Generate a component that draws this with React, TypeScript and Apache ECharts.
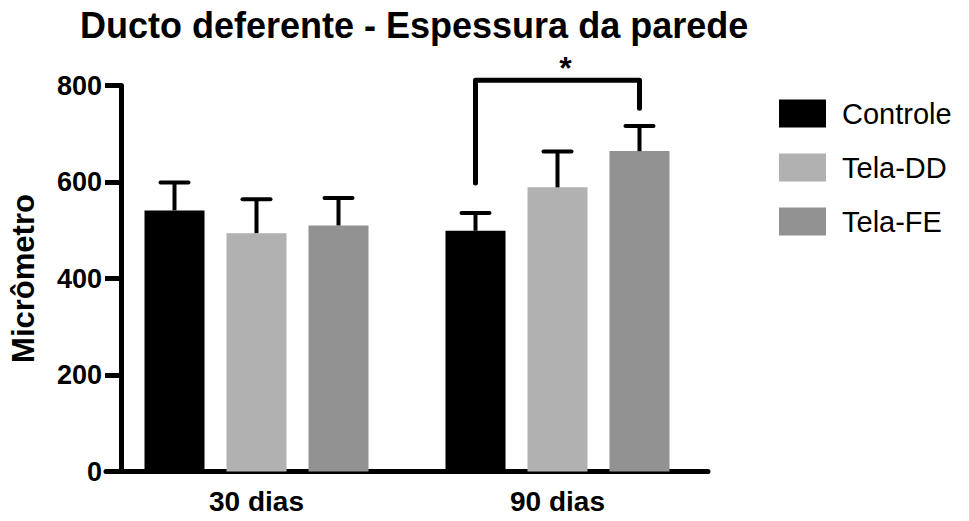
import React, { useEffect, useRef } from "react";
import * as echarts from "echarts";

// Group labels on the x axis
const categories = ["30 dias", "90 dias"];

// Mean wall thickness (µm) and standard deviation for each group
const controleMean = [541, 499];
const controleSd = [58, 37];
const telaDDMean = [494, 589];
const telaDDSd = [70, 74];
const telaFEMean = [510, 664];
const telaFESd = [57, 52];

// Significance bracket (90 dias: Controle vs Tela-FE), in µm
const bracketCategory = 1;
const bracketTop = [811];
const bracketLeftEnd = [598];
const bracketRightEnd = [753];
const bracketLabel = "*";

const seriesNames = ["Controle", "Tela-DD", "Tela-FE"];
const seriesColors = ["#000000", "#b1b1b1", "#929292"];

const yTicks = { min: 0, max: 800, interval: 200 };

const FONT = "'Liberation Sans', Arial, Helvetica, sans-serif";
const BAR_WIDTH = 60;
const BAR_GAP_PX = 22;
const STEP = BAR_WIDTH + BAR_GAP_PX;

function errorSeries(groupIndex: number, means: number[], sds: number[]) {
  const offset = (groupIndex - 1) * STEP;
  return {
    type: "custom",
    z: 5,
    clip: false,
    silent: true,
    data: means.map((m, i) => [i, m, sds[i]]),
    renderItem: (_params: any, api: any) => {
      const cat = api.value(0);
      const mean = api.value(1);
      const sd = api.value(2);
      const base = api.coord([cat, mean]);
      const top = api.coord([cat, mean + sd]);
      const x = base[0] + offset;
      return {
        type: "group",
        children: [
          {
            type: "line",
            shape: { x1: x, y1: base[1], x2: x, y2: top[1] },
            style: { stroke: "#000", lineWidth: 4 },
          },
          {
            type: "line",
            shape: { x1: x - 14, y1: top[1], x2: x + 14, y2: top[1] },
            style: { stroke: "#000", lineWidth: 4, lineCap: "round" },
          },
        ],
      };
    },
  };
}

export default function App() {
  const ref = useRef<HTMLDivElement>(null);

  useEffect(() => {
    if (!ref.current) return;
    const chart = echarts.init(ref.current, null, { renderer: "svg" });

    const means = [controleMean, telaDDMean, telaFEMean];
    const sds = [controleSd, telaDDSd, telaFESd];

    const barSeries = seriesNames.map((name, i) => ({
      name,
      type: "bar",
      data: means[i],
      barWidth: BAR_WIDTH,
      barGap: `${(BAR_GAP_PX / BAR_WIDTH) * 100}%`,
      itemStyle: { color: seriesColors[i] },
      z: 2,
    }));

    const bracket = {
      type: "custom",
      z: 6,
      clip: false,
      silent: true,
      data: [[bracketCategory, bracketTop[0], bracketLeftEnd[0], bracketRightEnd[0]]],
      renderItem: (_params: any, api: any) => {
        const cat = api.value(0);
        const topY = api.coord([cat, api.value(1)])[1];
        const leftY = api.coord([cat, api.value(2)])[1];
        const rightY = api.coord([cat, api.value(3)])[1];
        const cx = api.coord([cat, 0])[0];
        const lx = cx - STEP;
        const rx = cx + STEP;
        return {
          type: "group",
          children: [
            {
              type: "polyline",
              shape: {
                points: [
                  [lx, leftY],
                  [lx, topY],
                  [rx, topY],
                  [rx, rightY],
                ],
              },
              style: {
                stroke: "#000",
                lineWidth: 5,
                fill: "none",
                lineCap: "round",
                lineJoin: "round",
              },
            },
            {
              type: "text",
              x: (lx + rx) / 2 + 8,
              y: topY - 12,
              style: {
                text: bracketLabel,
                fill: "#000",
                font: `bold 32px ${FONT}`,
                textAlign: "center",
                textVerticalAlign: "middle",
              },
            },
          ],
        };
      },
    };

    chart.setOption({
      animation: false,
      textStyle: { fontFamily: FONT },
      title: {
        text: "Ducto deferente - Espessura da parede",
        left: 75,
        top: 2,
        textStyle: {
          fontFamily: FONT,
          fontSize: 36,
          fontWeight: "bold",
          color: "#000",
        },
      },
      legend: {
        orient: "vertical",
        left: 779,
        top: 99,
        padding: 0,
        icon: "rect",
        itemWidth: 47,
        itemHeight: 28,
        itemGap: 25,
        data: seriesNames,
        textStyle: {
          fontFamily: FONT,
          fontSize: 29,
          color: "#000",
          padding: [0, 0, 0, 11],
        },
      },
      grid: { left: 104, width: 604, top: 85.5, height: 386 },
      xAxis: {
        type: "category",
        data: categories,
        axisLine: { lineStyle: { color: "#000", width: 5 } },
        axisTick: {
          alignWithLabel: true,
          length: 13,
          lineStyle: { color: "#000", width: 5 },
        },
        axisLabel: {
          fontFamily: FONT,
          fontSize: 28,
          fontWeight: "bold",
          color: "#000",
          margin: 16,
        },
      },
      yAxis: {
        type: "value",
        min: yTicks.min,
        max: yTicks.max,
        interval: yTicks.interval,
        offset: -15,
        name: "Micrômetro",
        nameLocation: "middle",
        nameRotate: 90,
        nameGap: 82,
        nameTextStyle: {
          fontFamily: FONT,
          fontSize: 31,
          fontWeight: "bold",
          color: "#000",
        },
        axisLine: { show: true, lineStyle: { color: "#000", width: 5 } },
        axisTick: { show: true, length: 16, lineStyle: { color: "#000", width: 5 } },
        axisLabel: {
          fontFamily: FONT,
          fontSize: 27,
          fontWeight: "bold",
          color: "#000",
          margin: 19,
        },
        splitLine: { show: false },
      },
      series: [
        ...barSeries,
        errorSeries(0, controleMean, controleSd),
        errorSeries(1, telaDDMean, telaDDSd),
        errorSeries(2, telaFEMean, telaFESd),
        bracket,
      ],
    });

    return () => chart.dispose();
  }, []);

  return (
    <div
      ref={ref}
      style={{ position: "absolute", left: 0, top: 0, width: 969, height: 521 }}
    />
  );
}
